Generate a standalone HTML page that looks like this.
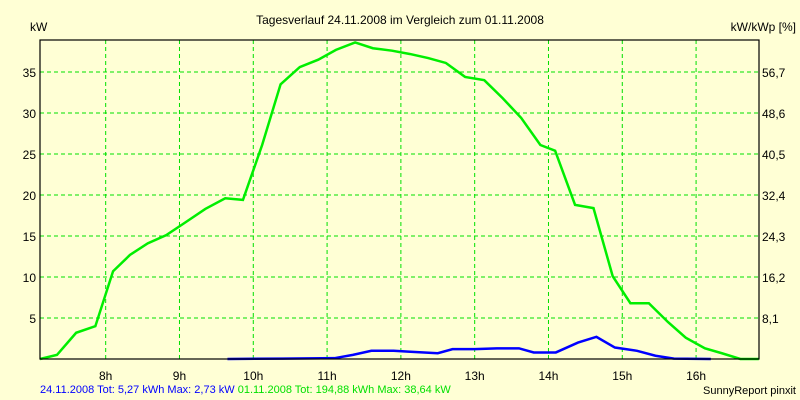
<!DOCTYPE html>
<html><head><meta charset="utf-8"><style>
body{margin:0;background:#FFFFD5;}
svg{display:block;font-family:"Liberation Sans",sans-serif;}
</style></head><body>
<svg id="c" width="800" height="400" viewBox="0 0 800 400">
<rect width="800" height="400" fill="#FFFFD5"/>
<text x="400" y="24" font-size="12" text-anchor="middle">Tagesverlauf 24.11.2008 im Vergleich zum 01.11.2008</text>
<text x="30" y="31" font-size="12">kW</text>
<text x="796" y="31" font-size="12" text-anchor="end">kW/kWp [%]</text>
<g id="grid"></g>
<g id="series"></g>
<rect x="40" y="40" width="719" height="319" fill="none" stroke="#000" stroke-width="1.2"/>
<g id="labels"></g>
<text x="40" y="393" font-size="11"><tspan fill="#0000ff">24.11.2008 Tot: 5,27 kWh Max: 2,73 kW</tspan><tspan fill="#00e000"> 01.11.2008 Tot: 194,88 kWh Max: 38,64 kW</tspan></text>
<text x="796" y="394" font-size="11" text-anchor="end">SunnyReport pinxit</text>
</svg>
<script>
const hourTicks=[8,9,10,11,12,13,14,15,16];
const kwTicks=[5,10,15,20,25,30,35];
const pctTicks=["8,1","16,2","24,3","32,4","40,5","48,6","56,7"];
const greenT=[7.11,7.34,7.60,7.86,8.10,8.33,8.57,8.82,9.07,9.35,9.62,9.86,10.12,10.37,10.63,10.88,11.12,11.38,11.62,11.88,12.12,12.37,12.61,12.87,13.13,13.38,13.63,13.89,14.09,14.36,14.61,14.87,15.11,15.36,15.62,15.86,16.12,16.35,16.60,16.85];
const greenKW=[0,0.5,3.2,4.0,10.7,12.7,14.1,15.1,16.6,18.3,19.6,19.4,26.1,33.5,35.6,36.5,37.7,38.6,37.9,37.6,37.2,36.7,36.1,34.4,34.0,31.8,29.4,26.1,25.4,18.8,18.4,10.1,6.8,6.8,4.5,2.6,1.3,0.7,0,0];
const blueT=[9.65,10.4,11.1,11.35,11.6,11.9,12.1,12.5,12.7,13.0,13.3,13.6,13.8,14.1,14.4,14.65,14.9,15.2,15.45,15.7,16.2];
const blueKW=[0,0.05,0.1,0.5,1.0,1.0,0.9,0.7,1.2,1.2,1.3,1.3,0.8,0.8,2.0,2.7,1.4,1.0,0.4,0.05,0];
const NS="http://www.w3.org/2000/svg";
const X=t=>40+(t-7.11)*73.8, Y=v=>359-v*8.2;
function mk(tag,attrs,parent){const e=document.createElementNS(NS,tag);for(const k in attrs)e.setAttribute(k,attrs[k]);document.getElementById(parent).appendChild(e);return e;}
hourTicks.forEach(h=>{
 const l=mk('line',{x1:X(h),x2:X(h),y1:40,y2:359,stroke:'#00e000','stroke-dasharray':'4,3'},'grid');
 
 
 const t=mk('text',{x:X(h),y:380,'font-size':12,'text-anchor':'middle'},'labels');t.textContent=h+'h';
 
 
});
kwTicks.forEach((v,i)=>{
 const l=mk('line',{x1:40,x2:759,y1:Y(v),y2:Y(v),stroke:'#00e000','stroke-dasharray':'4,3'},'grid');
 
 
 const t=mk('text',{x:36,y:Y(v)+5,'font-size':12,'text-anchor':'end'},'labels');t.textContent=v;
 
 
 const r=mk('text',{x:762,y:Y(v)+5,'font-size':12},'labels');r.textContent=pctTicks[i];
 
 
});
const g=mk('polyline',{points:greenT.map((t,i)=>X(t)+','+Y(greenKW[i])).join(' '),fill:'none',stroke:'#00ee00','stroke-width':2.5},'series');


const b=mk('polyline',{points:blueT.map((t,i)=>X(t)+','+Y(blueKW[i])).join(' '),fill:'none',stroke:'#0000ff','stroke-width':2.5},'series');


</script>
</body></html>
